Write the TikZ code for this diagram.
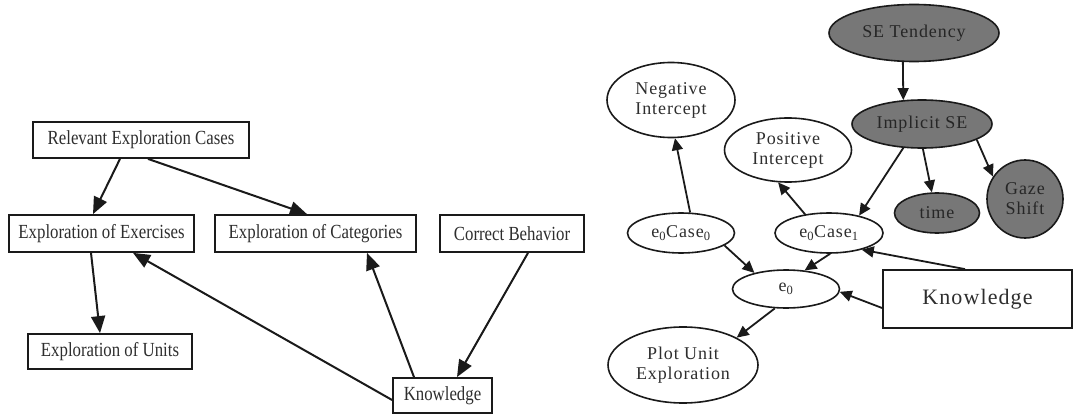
\documentclass[tikz,border=0pt]{standalone}
\usepackage{fontspec}
\setmainfont{Liberation Serif}
\newfontfamily\narrowf[FakeStretch=0.84]{Liberation Serif}
\newfontfamily\spaced[LetterSpace=5]{Liberation Serif}
\newfontfamily\spacedk[LetterSpace=5]{Liberation Serif}
\usetikzlibrary{shapes.geometric,arrows.meta}
\definecolor{ink}{HTML}{1A1A1A}
\definecolor{txt}{HTML}{2E2E2E}
\definecolor{seg}{HTML}{777777}
\begin{document}
\begin{tikzpicture}[x=1pt,y=-1pt,
  box/.style={draw=ink,line width=1.8pt,rectangle,inner sep=0pt,fill=white,
    font=\narrowf\fontsize{20}{22}\selectfont,text=txt},
  ov/.style={draw=ink,line width=1.6pt,ellipse,inner sep=0pt,fill=white,
    font=\spaced\fontsize{18}{20}\selectfont,text=txt,align=center},
  gv/.style={ov,fill=seg,text=black!85},
  arrL/.style={draw=ink,line width=2pt,-{Triangle[length=17pt,width=14pt]}},
  arrR/.style={draw=ink,line width=1.8pt,-{Triangle[length=12pt,width=11pt]}},
]
\fill[white] (0,0) rectangle (1073,414);
\useasboundingbox (0,0) rectangle (1073,414);

% ---------- left graph ----------
\node[box,minimum width=216pt,minimum height=36pt] (rel) at (141,140) {Relevant Exploration Cases};
\node[box,minimum width=185pt,minimum height=37pt] (exe) at (101.5,233.5) {Exploration of Exercises};
\node[box,minimum width=201pt,minimum height=37pt] (cat) at (315.5,233.5) {Exploration of Categories};
\node[box,minimum width=144pt,minimum height=37pt] (cb) at (512,233.5) {Correct Behavior};
\node[box,minimum width=164pt,minimum height=35pt] (uni) at (110,351.5) {Exploration of Units};
\node[box,minimum width=99pt,minimum height=35pt] (knl) at (442.5,395.5) {Knowledge};

\draw[arrL] ([xshift=-21pt]rel.south) -- ([xshift=-8.5pt]exe.north);
\draw[arrL] ([xshift=7pt]rel.south) -- ([xshift=-8.5pt]cat.north);
\draw[arrL] ([xshift=-10.5pt]exe.south) -- ([xshift=-10pt]uni.north);
\draw[arrL] ([yshift=-4.5pt]knl.west) -- ([xshift=31.5pt]exe.south);
\draw[arrL] ([xshift=-28.5pt]knl.north) -- ([xshift=51.5pt]cat.south);
\draw[arrL] ([xshift=16pt]cb.south) -- ([xshift=14.5pt]knl.north);

% ---------- right graph ----------
\node[gv,minimum width=170pt,minimum height=57pt] (se) at (914,33) {SE Tendency};
\node[gv,minimum width=140pt,minimum height=48pt] (imp) at (922,124) {Implicit SE};
\node[ov,minimum width=128pt,minimum height=75pt] (neg) at (671,100) {Negative\\Intercept};
\node[ov,minimum width=127pt,minimum height=64pt] (pos) at (788,150) {Positive\\Intercept};
\node[gv,minimum width=85pt,minimum height=40pt] (tim) at (937,213) {time};
\node[gv,minimum width=76pt,minimum height=78pt] (gaz) at (1025,199) {Gaze\\Shift};
\node[ov,minimum width=107pt,minimum height=40pt] (c0) at (681,233) {e\textsubscript{0}Case\textsubscript{0}};
\node[ov,minimum width=108pt,minimum height=40pt] (c1) at (829,233) {e\textsubscript{0}Case\textsubscript{1}};
\node[ov,minimum width=107pt,minimum height=38pt] (e0) at (786,289) {e\textsubscript{0}};
\node[box,minimum width=189pt,minimum height=58pt,font=\spacedk\fontsize{22}{26}\selectfont] (kr) at (977.5,299) {Knowledge};
\node[ov,minimum width=150pt,minimum height=76pt] (plo) at (683,365) {Plot Unit\\Exploration};

\draw[arrR] (se.249) -- (imp.128);
\draw[arrR] (imp.232) -- (c1.30);
\draw[arrR] (imp.272) -- (tim.104);
\draw[arrR] (imp.344) -- (gaz.145);
\draw[arrR] (c0.66) -- (neg.276);
\draw[arrR] (c1.142) -- (pos.253);
\draw[arrR] (c0.344) -- (e0.153);
\draw[arrR] (c1.273) -- (e0.45);
\draw[arrR] ([xshift=-12.5pt]kr.north) -- (c1.333);
\draw[arrR] ([yshift=-9pt]kr.west) -- (e0.357);
\draw[arrR] (e0.240) -- (plo.27);
\end{tikzpicture}
\end{document}
